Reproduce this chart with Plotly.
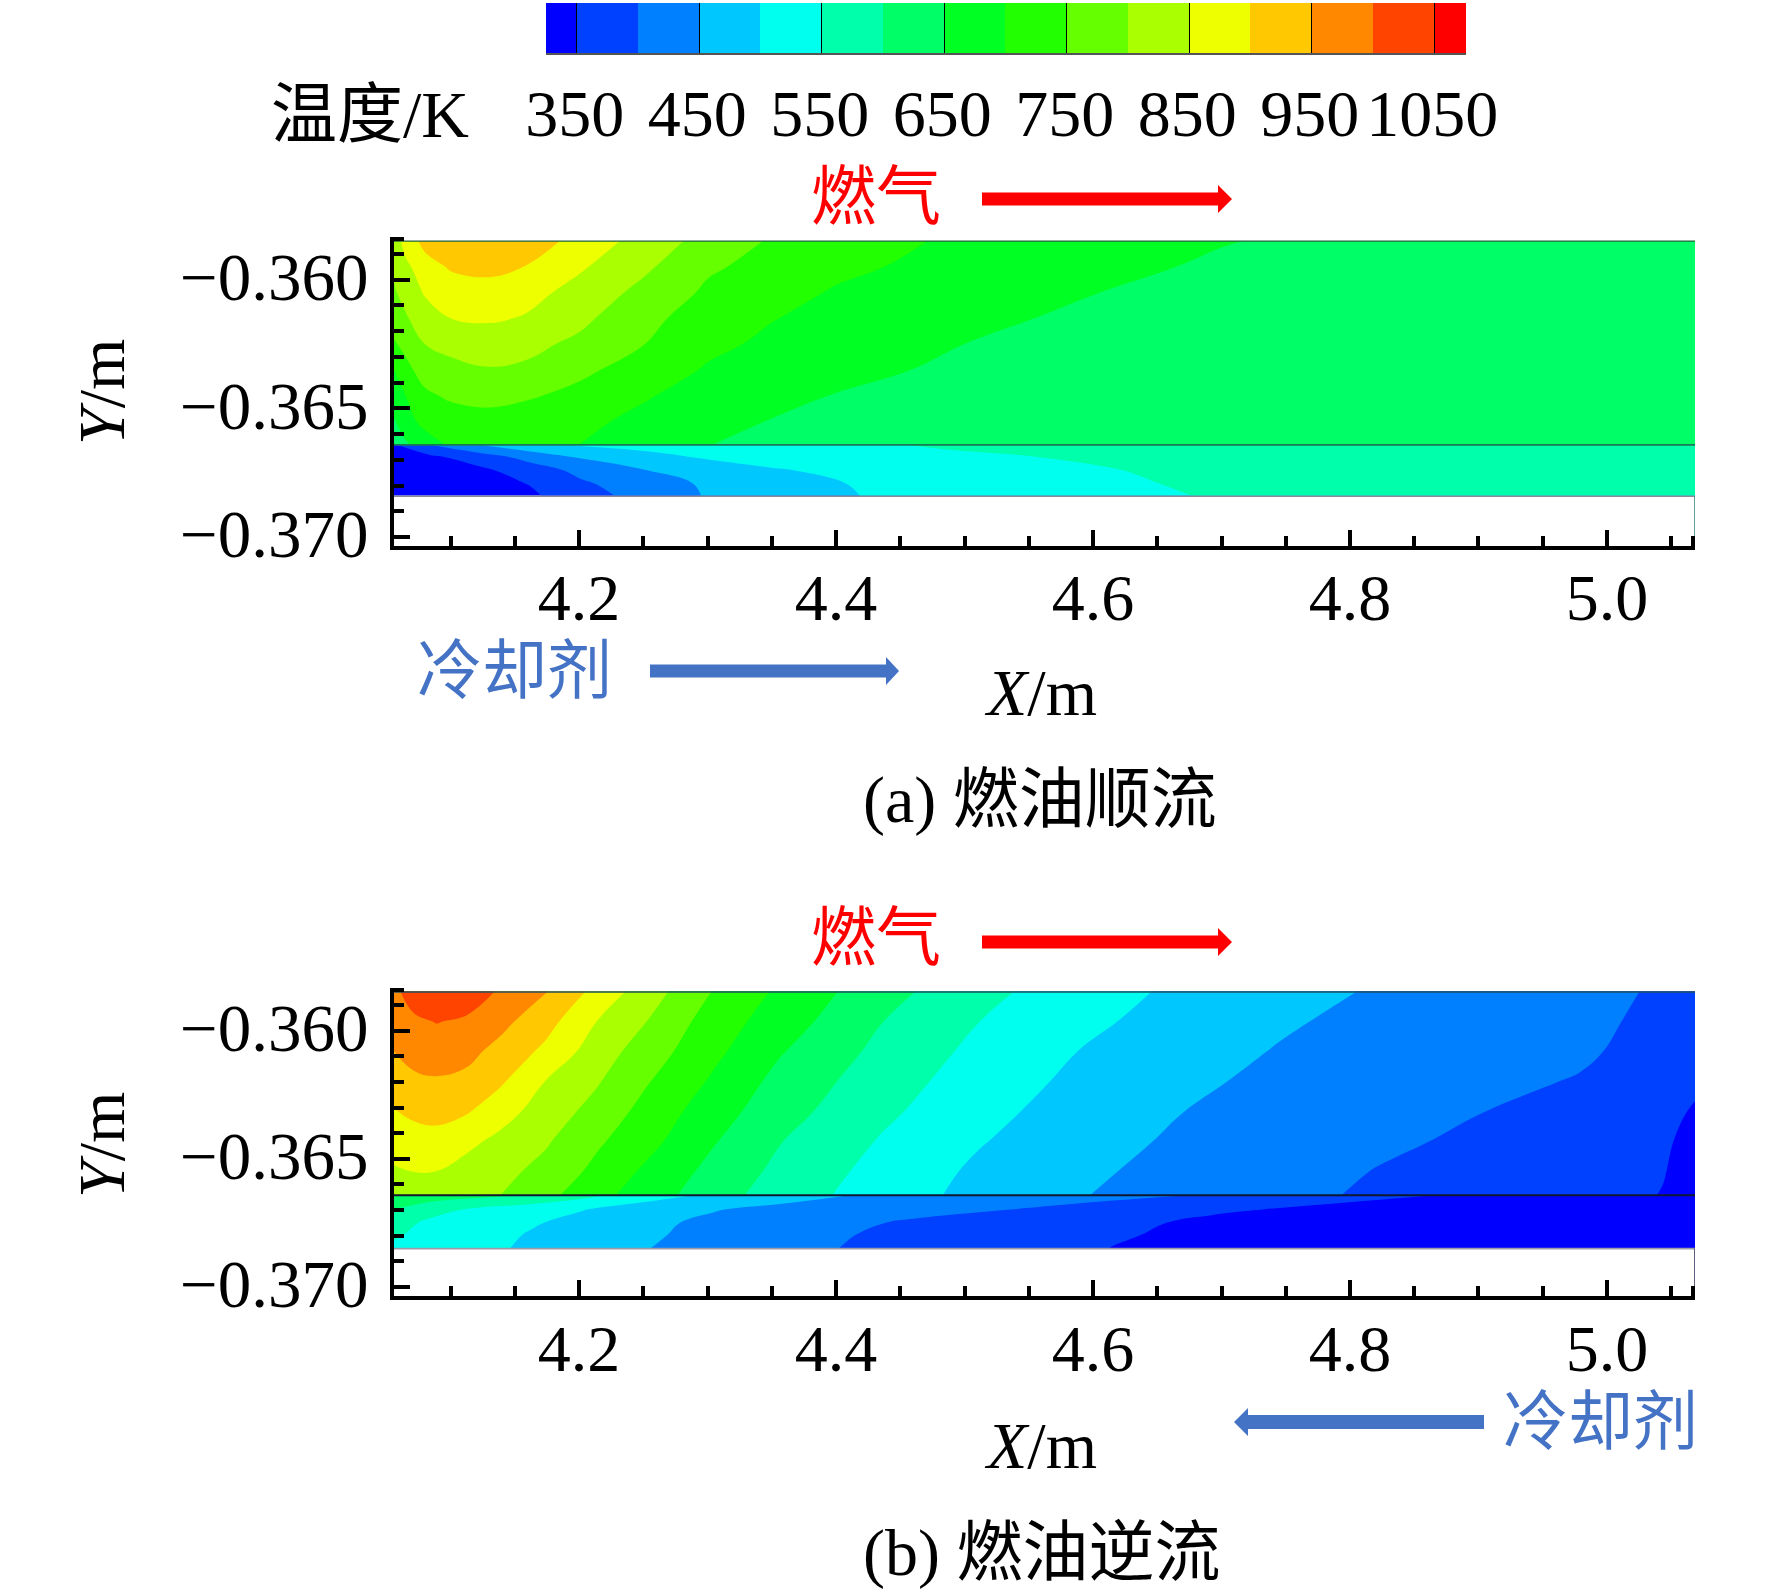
import plotly.graph_objects as go

# ---------- colour legend ----------
band_colors = ["#0000ff", "#0040ff", "#0080ff", "#00c8ff", "#00ffee", "#00ffaa", "#00ff66", "#00ff22",
               "#22ff00", "#66ff00", "#aaff00", "#eeff00", "#ffc800", "#ff8800", "#ff4400", "#ff0000"]
band_edges = [325, 350, 400, 450, 500, 550, 600, 650, 700, 750, 800, 850, 900, 950, 1000, 1050, 1076]
band_values = [325, 375, 425, 475, 525, 575, 625, 675, 725, 775, 825, 875, 925, 975, 1025, 1075]
legend_ticks = [350, 450, 550, 650, 750, 850, 950, 1050]

# ---------- panel (a): gas region, K ----------
a_gas_x = [4.056, 4.065, 4.080, 4.100, 4.130, 4.160, 4.200, 4.250, 4.300, 4.350, 4.400, 4.500, 4.600, 4.700, 4.800, 5.072]
a_gas_y = [-0.3585, -0.3595, -0.3605, -0.3615, -0.3625, -0.3635, -0.3645, -0.3655, -0.36642]
a_gas_T = [
    [820, 870, 915, 930, 935, 925, 885, 830, 782, 745, 722, 691, 671, 652, 640, 625],
    [808, 838, 880, 905, 912, 898, 857, 810, 757, 734, 712, 680, 661, 644, 632, 625],
    [795, 815, 855, 875, 882, 866, 833, 786, 742, 720, 695, 675, 651, 635, 628, 625],
    [770, 795, 825, 850, 858, 845, 812, 765, 725, 702, 685, 662, 640, 628, 625, 625],
    [745, 762, 800, 810, 815, 812, 790, 751, 712, 690, 678, 650, 632, 625, 625, 625],
    [700, 738, 768, 790, 798, 792, 760, 730, 695, 680, 667, 638, 627, 625, 625, 625],
    [675, 700, 742, 757, 763, 755, 738, 705, 680, 665, 648, 630, 625, 625, 625, 625],
    [645, 685, 712, 728, 735, 728, 712, 688, 668, 648, 637, 626, 625, 625, 625, 625],
    [620, 640, 680, 705, 712, 708, 700, 672, 651, 637, 630, 626, 625, 625, 625, 625],
]

# ---------- panel (a): coolant region, K ----------
a_cool_x = [4.056, 4.084, 4.123, 4.162, 4.201, 4.253, 4.305, 4.356, 4.421, 4.486, 4.551, 4.616, 4.681, 4.745, 5.072]
a_cool_y = [-0.36642, -0.36689, -0.36741, -0.36793, -0.36840]
a_cool_T = [
    [345, 400, 450, 488, 505, 515, 525, 532, 544, 555, 565, 572, 575, 578, 580],
    [320, 340, 375, 418, 455, 487, 507, 520, 532, 542, 549, 560, 570, 575, 580],
    [315, 325, 340, 375, 413, 450, 478, 497, 515, 528, 537, 548, 565, 573, 580],
    [310, 318, 330, 352, 392, 428, 460, 480, 505, 518, 528, 540, 558, 570, 580],
    [305, 312, 325, 342, 378, 421, 457, 475, 501, 513, 523, 535, 551, 565, 580],
]

# ---------- panel (b): gas region, K ----------
b_gas_x = [4.056, 4.0711, 4.0892, 4.1126, 4.1385, 4.1748, 4.2138, 4.2527, 4.3045, 4.3564,
           4.4342, 4.5121, 4.5899, 4.6677, 4.7455, 4.8233, 4.9012, 4.9790, 5.0438, 5.072]
b_gas_y = [-0.35847, -0.35964, -0.36081, -0.36197, -0.36314, -0.36431, -0.36548, -0.36644]
b_gas_T = [
    [990, 1020, 1040, 1027, 995, 952, 885, 825, 748, 691, 620, 564, 523, 491, 467, 445, 428, 410, 396, 388],
    [970, 992, 1002, 993, 965, 917, 850, 800, 726, 675, 602, 550, 512, 480, 456, 436, 423, 410, 390, 375],
    [950, 968, 975, 964, 935, 888, 825, 776, 712, 654, 588, 537, 499, 470, 447, 427, 414, 407, 382, 362],
    [924, 940, 945, 938, 908, 848, 805, 754, 693, 635, 574, 526, 489, 461, 438, 425, 412, 397, 370, 355],
    [898, 910, 915, 905, 871, 826, 783, 733, 673, 620, 561, 516, 477, 451, 432, 417, 401, 383, 360, 345],
    [871, 880, 884, 862, 838, 805, 758, 716, 654, 602, 547, 503, 469, 443, 426, 408, 392, 375, 354, 340],
    [845, 851, 850, 833, 814, 785, 737, 691, 635, 588, 534, 491, 458, 437, 418, 398, 381, 365, 351, 340],
    [808, 822, 822, 815, 800, 762, 715, 675, 620, 577, 525, 485, 452, 431, 411, 393, 378, 362, 349, 340],
]

# ---------- panel (b): coolant region, K ----------
b_cool_x = [4.056, 4.0841, 4.1230, 4.1619, 4.2008, 4.2527, 4.3045, 4.3564, 4.4083, 4.4601,
            4.5380, 4.6158, 4.6936, 4.7973, 4.9012, 5.072]
b_cool_y = [-0.36644, -0.36697, -0.36749, -0.36795, -0.36850]
b_cool_T = [
    [640, 625, 610, 600, 565, 517, 490, 470, 450, 440, 425, 410, 395, 358, 345, 325],
    [600, 570, 540, 520, 503, 478, 453, 437, 426, 417, 400, 382, 355, 342, 332, 320],
    [570, 540, 515, 505, 487, 460, 440, 425, 410, 393, 375, 358, 343, 332, 325, 318],
    [555, 537, 517, 497, 477, 456, 437, 420, 402, 388, 372, 354, 340, 330, 322, 315],
    [542, 530, 512, 492, 475, 451, 432, 415, 398, 386, 368, 349, 337, 328, 320, 312],
]

# ---------- axes ----------
x_major = [4.2, 4.4, 4.6, 4.8, 5.0]
x_labels = ["4.2", "4.4", "4.6", "4.8", "5.0"]
x_minor = [4.10, 4.15, 4.25, 4.30, 4.35, 4.45, 4.50, 4.55, 4.65, 4.70, 4.75, 4.85, 4.90, 4.95, 5.05, 5.067]
y_major = [-0.360, -0.365, -0.370]
y_labels = ["\u22120.360", "\u22120.365", "\u22120.370"]
y_minor = [-0.3584, -0.359, -0.361, -0.362, -0.363, -0.364, -0.366, -0.367, -0.368, -0.369]
x_extent = [4.056, 5.0685]
y_extent = [-0.37035, -0.35834]
gas_top = -0.3585
interface_y = -0.36642
a_coolant_bottom = -0.36842
b_coolant_bottom = -0.36850

W, H = 1772, 1593
SERIF = "Liberation Serif, Noto Sans CJK SC, serif"
CJK = "Liberation Serif, Noto Sans CJK SC"
RED, BLUE = "#ff0000", "#4472c4"
FS = 66


def xp(v):
    return v / W


def yp(v):
    return 1 - v / H


scale = [[i / 15, c] for i, c in enumerate(band_colors)]
fig = go.Figure()


def add_field(x, y, z, xa, ya):
    fig.add_trace(go.Contour(
        x=x, y=y, z=z, xaxis=xa, yaxis=ya, colorscale=scale, zmin=325, zmax=1075, showscale=False,
        autocontour=False, contours=dict(start=350, end=1050, size=50, coloring="fill", showlines=False),
        line=dict(width=0, smoothing=1.2), hoverinfo="skip"))


def add_wall(xs, ys, xa, ya, color, w):
    fig.add_trace(go.Scatter(x=xs, y=ys, xaxis=xa, yaxis=ya, mode="lines", hoverinfo="skip",
                             line=dict(color=color, width=w), showlegend=False))


add_field(a_gas_x, a_gas_y, a_gas_T, "x", "y")
add_field(a_cool_x, a_cool_y, a_cool_T, "x", "y")
add_field(b_gas_x, b_gas_y, b_gas_T, "x2", "y2")
add_field(b_cool_x, b_cool_y, b_cool_T, "x2", "y2")

add_wall(x_extent, [gas_top, gas_top], "x", "y", "#206040", 1.2)
add_wall(x_extent, [interface_y, interface_y], "x", "y", "#1b7a55", 1.8)
add_wall(x_extent, [a_coolant_bottom, a_coolant_bottom], "x", "y", "#8a8a9a", 1.5)
add_wall([x_extent[1]] * 2, [y_extent[0], a_coolant_bottom], "x", "y", "#2f7f7f", 1.5)
add_wall(x_extent, [gas_top, gas_top], "x2", "y2", "#205060", 1.5)
add_wall(x_extent, [interface_y, interface_y], "x2", "y2", "#101830", 2)
add_wall(x_extent, [b_coolant_bottom, b_coolant_bottom], "x2", "y2", "#9a9aa8", 1.8)
add_wall([x_extent[1]] * 2, [y_extent[0], b_coolant_bottom], "x2", "y2", "#2a2a55", 1.5)

fig.add_trace(go.Heatmap(x=band_edges, y=[0, 1], z=[band_values], xaxis="x3", yaxis="y3",
                         colorscale=scale, zmin=325, zmax=1075, showscale=False, hoverinfo="skip"))


def xaxis(anchor, standoff):
    return dict(domain=[xp(394), xp(1695)], range=x_extent, anchor=anchor, showgrid=False, zeroline=False,
                automargin=False, showline=True, linecolor="black", linewidth=4, layer="above traces",
                ticks="inside", ticklen=16, tickwidth=4, tickcolor="black",
                tickmode="array", tickvals=x_major, ticktext=x_labels, ticklabelstandoff=standoff,
                minor=dict(tickmode="array", tickvals=x_minor, ticks="inside", ticklen=10, tickwidth=4,
                           tickcolor="black", showgrid=False),
                tickfont=dict(family=SERIF, size=FS, color="black"))


def yaxis(anchor, top, bottom):
    return dict(domain=[yp(bottom), yp(top)], range=y_extent, anchor=anchor, showgrid=False, zeroline=False,
                automargin=False, showline=True, linecolor="black", linewidth=4, layer="above traces",
                ticks="inside", ticklen=16, tickwidth=4, tickcolor="black",
                tickmode="array", tickvals=y_major, ticktext=y_labels, ticklabelstandoff=8, ticklabelshift=-3,
                minor=dict(tickmode="array", tickvals=y_minor, ticks="inside", ticklen=10, tickwidth=4,
                           tickcolor="black", showgrid=False),
                tickfont=dict(family=SERIF, size=67, color="black"))


def text(s, x, y, color="black", size=FS, angle=0, anchor="center"):
    return dict(text=s, x=xp(x), y=yp(y), xref="paper", yref="paper", showarrow=False, xanchor=anchor,
                yanchor="middle", textangle=angle, font=dict(family=CJK, size=size, color=color))


def arrow(x_tail, x_base, x_tip, yc, half_shaft, half_head, color):
    pts = [(x_tail, yc - half_shaft), (x_base, yc - half_shaft), (x_base, yc - half_head), (x_tip, yc),
           (x_base, yc + half_head), (x_base, yc + half_shaft), (x_tail, yc + half_shaft)]
    path = "M " + " L ".join(f"{xp(a):.5f},{yp(b):.5f}" for a, b in pts) + " Z"
    return dict(type="path", path=path, xref="paper", yref="paper", fillcolor=color, line=dict(width=0))


fig.update_layout(
    width=W, height=H, autosize=False, margin=dict(l=0, r=0, t=0, b=0, autoexpand=False),
    paper_bgcolor="white", plot_bgcolor="white", showlegend=False,
    xaxis=xaxis("y", -9), yaxis=yaxis("x", 237, 546),
    xaxis2=xaxis("y2", -8), yaxis2=yaxis("x2", 988, 1296),
    xaxis3=dict(domain=[xp(546), xp(1466)], range=[band_edges[0], band_edges[-1]], anchor="y3",
                automargin=False, showgrid=False, zeroline=False, showline=True, linecolor="#555555", linewidth=2,
                layer="above traces", ticks="inside", ticklen=50, tickwidth=1.2, tickcolor="black",
                tickmode="array", tickvals=legend_ticks, ticktext=[str(v) for v in legend_ticks],
                ticklabelstandoff=2, ticklabelshift=-2,
                tickfont=dict(family=SERIF, size=FS, color="black")),
    yaxis3=dict(domain=[yp(53), yp(3)], range=[0, 1], anchor="x3", visible=False, automargin=False),
    annotations=[
        text("温度/K", 269, 115, anchor="left"),
        text("燃气", 876, 197, RED, 65),
        text("燃气", 876, 938, RED, 65),
        text("冷却剂", 514, 671, BLUE, 65),
        text("冷却剂", 1600, 1422, BLUE, 65),
        text("<i>Y</i>/m", 101, 392, angle=-90),
        text("<i>Y</i>/m", 101, 1145, angle=-90),
        text("<i>X</i>/m", 1040, 692),
        text("<i>X</i>/m", 1040, 1445),
        text("(a) 燃油顺流", 1040, 800),
        text("(b) 燃油逆流", 1041, 1553),
    ],
    shapes=[
        arrow(982, 1218, 1232, 199, 6.5, 14, RED),
        arrow(982, 1218, 1232, 942, 6.5, 14, RED),
        arrow(650, 886, 899, 671, 6.5, 14, BLUE),
        arrow(1484, 1248, 1234, 1422, 7, 14, BLUE),
    ],
)

fig.write_html("out.html", config={"displayModeBar": False},
               post_script="document.body.style.margin='0';document.body.style.overflow='hidden';")
